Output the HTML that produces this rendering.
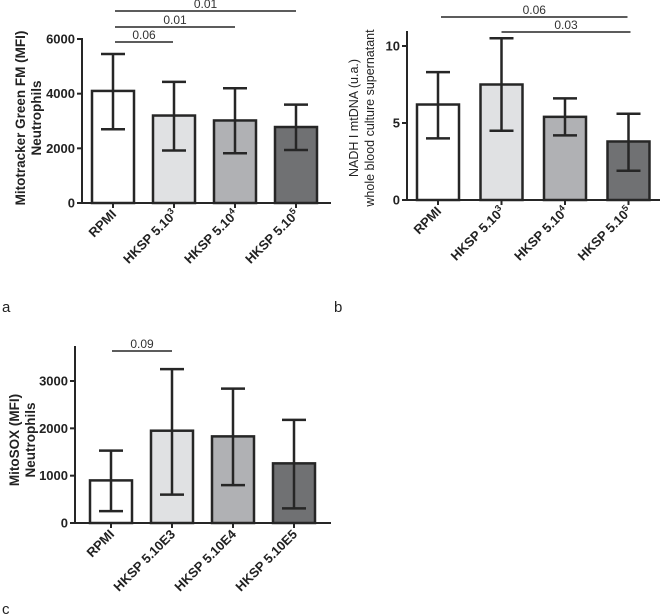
<!DOCTYPE html>
<html><head><meta charset="utf-8"><style>
body{margin:0;background:#fff;}
svg{display:block;font-family:"Liberation Sans",Arial,sans-serif;}
</style></head><body>
<svg id="fig" width="660" height="615"></svg>
<script>
const NS="http://www.w3.org/2000/svg";
const fillsA=["#ffffff","#e0e1e3","#b0b1b4","#707173"];
const catsA=[["RPMI",""],["HKSP 5.10","3"],["HKSP 5.10","4"],["HKSP 5.10","5"]];
const valsA=[4100,3200,3020,2780];
const loA=[2700,1920,1820,1940];
const hiA=[5450,4430,4200,3600];
const ticksA=[0,2000,4000,6000];
const sigA=[[0,1,"0.06"],[0,2,"0.01"],[0,3,"0.01"]];

const catsB=catsA;
const valsB=[6.2,7.5,5.4,3.8];
const loB=[4.0,4.5,4.2,1.9];
const hiB=[8.3,10.5,6.6,5.6];
const ticksB=[0,5,10];
const sigB=[[0,3,"0.06"],[1,3,"0.03"]];

const catsC=[["RPMI",""],["HKSP 5.10E3",""],["HKSP 5.10E4",""],["HKSP 5.10E5",""]];
const valsC=[900,1950,1830,1260];
const loC=[250,600,800,310];
const hiC=[1530,3250,2840,2180];
const ticksC=[0,1000,2000,3000];
const sigC=[[0,1,"0.09"]];

const svg=document.getElementById('fig');
function el(t,a,p){const e=document.createElementNS(NS,t);for(const k in a)e.setAttribute(k,a[k]);(p||svg).appendChild(e);return e;}
const K="#262626";

function panel(o){
  const g=el('g',{});
  
  
  const y=v=>o.y0-(v-o.vmin)/(o.vmax-o.vmin)*(o.y0-o.y1);
  const x=i=>o.x0+o.first+i*o.step;
  o.vals.forEach((v,i)=>{
    const r=el('rect',{x:x(i)-21,y:y(v),width:42,height:o.y0-y(v),fill:fillsA[i],stroke:K,'stroke-width':2.5},g);
    
    
    const e=el('path',{d:`M${x(i)},${y(o.lo[i])}V${y(o.hi[i])}M${x(i)-12},${y(o.hi[i])}H${x(i)+12}M${x(i)-12},${y(o.lo[i])}H${x(i)+12}`,stroke:K,'stroke-width':2.5,fill:'none'},g);
    
    
  });
  const ax=el('path',{d:`M${o.x0},${o.top}V${o.y0}H${o.xend}`,stroke:K,'stroke-width':2,fill:'none'},g);
  
  
  o.ticks.forEach(t=>{
    el('line',{x1:o.x0-5,x2:o.x0,y1:y(t),y2:y(t),stroke:K,'stroke-width':2},g);
    const tx=el('text',{x:o.x0-7,y:y(t)+4.5,'text-anchor':'end','font-size':13,'font-weight':'bold',fill:'#222'},g);
    tx.textContent=t;
    
    
  });
  o.cats.forEach((c,i)=>{
    el('line',{x1:x(i),x2:x(i),y1:o.y0,y2:o.y0+5,stroke:K,'stroke-width':2},g);
    const tx=el('text',{transform:`translate(${x(i)+4},${o.y0+12}) rotate(-45)`,'text-anchor':'end','font-size':13,'font-weight':'bold',fill:'#222'},g);
    tx.textContent=c[0];
    if(c[1]){const s=el('tspan',{'font-size':9,dy:-5},tx);s.textContent=c[1];}
    
    
  });
  o.sig.forEach((s,k)=>{
    const ly=o.sigY[k];
    const a=x(s[0])+o.sigOff[k][0], b=x(s[1])+o.sigOff[k][1];
    el('line',{x1:a,x2:b,y1:ly,y2:ly,stroke:K,'stroke-width':1.6},g);
    const tx=el('text',{x:(a+b)/2,y:ly-3,'text-anchor':'middle','font-size':12,fill:'#333'},g);
    tx.textContent=s[2];
    
    
  });
  const yt=el('text',{transform:`translate(${o.tx},${o.tyc}) rotate(-90)`,'text-anchor':'middle','font-size':o.tfs,'font-weight':o.tb,fill:'#222'},g);
  
  
  o.title.forEach((l,i)=>{const s=el('tspan',{x:0,dy:i?16:0},yt);s.textContent=l;});
  const lt=el('text',{x:o.lx,y:o.ly,'font-size':15,fill:'#222'},g);
  lt.textContent=o.letter;
  
  
}
panel({name:'panel-a',vals:valsA,lo:loA,hi:hiA,ticks:ticksA,cats:catsA,sig:sigA,
 x0:82,first:31,step:61,xend:331,y0:203,y1:39,vmin:0,vmax:6000,top:38,
 sigY:[42,27,11],sigOff:[[2,-1],[2,0],[2,0]],tx:25,tyc:118,tb:'bold',tfs:13.5,
 title:["Mitotracker Green FM (MFI)","Neutrophils"],letter:'a',lx:2,ly:312});
panel({name:'panel-b',vals:valsB,lo:loB,hi:hiB,ticks:ticksB,cats:catsB,sig:sigB,
 x0:407,first:31,step:63.5,xend:660,y0:200,y1:46,vmin:0,vmax:10,top:31,
 sigY:[17,32],sigOff:[[3,-1],[0,2]],tx:358,tyc:118,tb:'normal',tfs:12.5,
 title:["NADH I mtDNA (u.a.)","whole blood culture supernatant"],letter:'b',lx:334,ly:312});
panel({name:'panel-c',vals:valsC,lo:loC,hi:hiC,ticks:ticksC,cats:catsC,sig:sigC,
 x0:75,first:36,step:61,xend:331,y0:523,y1:381,vmin:0,vmax:3000,top:346,
 sigY:[351],sigOff:[[1,0]],tx:19,tyc:440,tb:'bold',tfs:13.5,
 title:["MitoSOX (MFI)","Neutrophils"],letter:'c',lx:2,ly:614});
</script>
</body></html>
